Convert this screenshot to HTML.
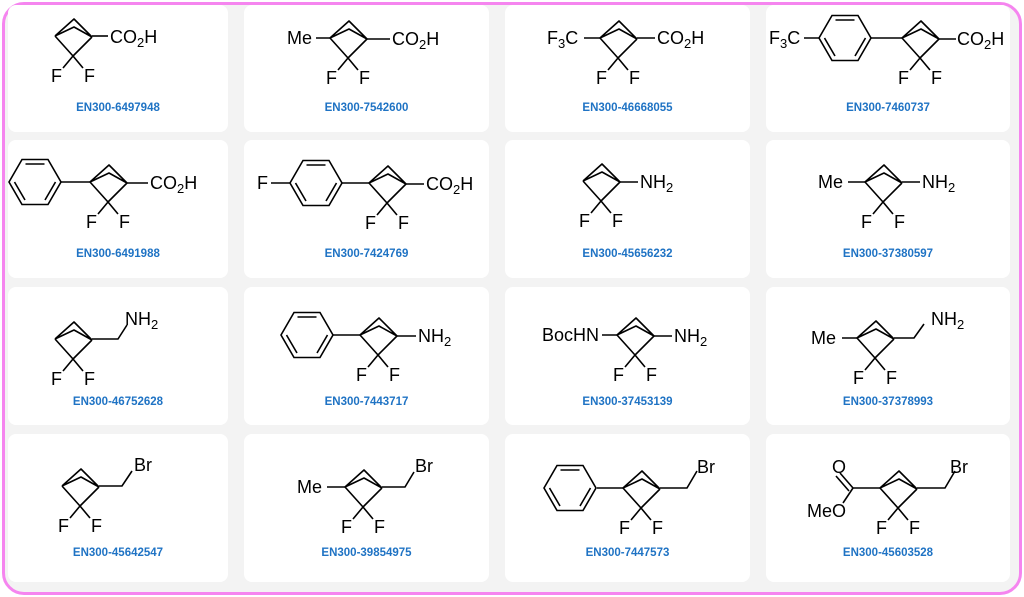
<!DOCTYPE html>
<html><head><meta charset="utf-8"><style>
body{margin:0;width:1024px;height:597px;background:#fff;overflow:hidden;position:relative;font-family:"Liberation Sans",sans-serif}
.frame{position:absolute;left:2px;top:2px;width:1014px;height:587px;border:3px solid #f585ef;border-radius:22px;background:#f3f3f3;overflow:hidden}
.card{position:absolute;background:#fff;border-radius:8px}
.lab{position:absolute;font-size:11.5px;font-weight:bold;color:#1f73c4;text-align:center}
svg{position:absolute;left:0;top:0}
svg text{font-family:"Liberation Sans",sans-serif;font-size:18px;fill:#000}
</style></head><body>
<div class="frame"></div>
<div class="card" style="left:8px;top:5px;width:220px;height:127px"></div>
<div class="card" style="left:244px;top:5px;width:245px;height:127px"></div>
<div class="card" style="left:505px;top:5px;width:245px;height:127px"></div>
<div class="card" style="left:766px;top:5px;width:244px;height:127px"></div>
<div class="card" style="left:8px;top:140px;width:220px;height:138px"></div>
<div class="card" style="left:244px;top:140px;width:245px;height:138px"></div>
<div class="card" style="left:505px;top:140px;width:245px;height:138px"></div>
<div class="card" style="left:766px;top:140px;width:244px;height:138px"></div>
<div class="card" style="left:8px;top:287px;width:220px;height:138px"></div>
<div class="card" style="left:244px;top:287px;width:245px;height:138px"></div>
<div class="card" style="left:505px;top:287px;width:245px;height:138px"></div>
<div class="card" style="left:766px;top:287px;width:244px;height:138px"></div>
<div class="card" style="left:8px;top:434px;width:220px;height:148px"></div>
<div class="card" style="left:244px;top:434px;width:245px;height:148px"></div>
<div class="card" style="left:505px;top:434px;width:245px;height:148px"></div>
<div class="card" style="left:766px;top:434px;width:244px;height:148px"></div>

<div class="lab" style="left:8px;width:220px;top:102px">EN300-6497948</div>
<div class="lab" style="left:244px;width:245px;top:102px">EN300-7542600</div>
<div class="lab" style="left:505px;width:245px;top:102px">EN300-46668055</div>
<div class="lab" style="left:766px;width:244px;top:102px">EN300-7460737</div>
<div class="lab" style="left:8px;width:220px;top:248px">EN300-6491988</div>
<div class="lab" style="left:244px;width:245px;top:248px">EN300-7424769</div>
<div class="lab" style="left:505px;width:245px;top:248px">EN300-45656232</div>
<div class="lab" style="left:766px;width:244px;top:248px">EN300-37380597</div>
<div class="lab" style="left:8px;width:220px;top:396px">EN300-46752628</div>
<div class="lab" style="left:244px;width:245px;top:396px">EN300-7443717</div>
<div class="lab" style="left:505px;width:245px;top:396px">EN300-37453139</div>
<div class="lab" style="left:766px;width:244px;top:396px">EN300-37378993</div>
<div class="lab" style="left:8px;width:220px;top:547px">EN300-45642547</div>
<div class="lab" style="left:244px;width:245px;top:547px">EN300-39854975</div>
<div class="lab" style="left:505px;width:245px;top:547px">EN300-7447573</div>
<div class="lab" style="left:766px;width:244px;top:547px">EN300-45603528</div>

<svg width="1024" height="597" viewBox="0 0 1024 597">
<defs>
<g id="bcp" stroke="#000" stroke-width="1.6" fill="none" stroke-linejoin="round">
<path d="M0 0 L19 -17 L37 1 M0 0 L19 -9 L37 1 M0 0 L18 20 L37 1 M18 20 L8 32 M18 20 L28 32"/>
</g>
<g id="bz" stroke="#000" stroke-width="1.6" fill="none">
<polygon points="-26,0 -13,-22.5 13,-22.5 26,0 13,22.5 -13,22.5"/>
<path d="M-9.5,-18 L9.5,-18 M20.5,0 L10,18 M-10,18 L-20.5,0"/>
</g>
</defs>
<g stroke="#000" stroke-width="1.6" fill="none">
<path d="M92 36 L108 36"/>
<path d="M316 38 L330 38 M367 39 L390 39"/>
<path d="M584 38 L600 38 M637 38 L655 38"/>
<path d="M804 38 L819 38 M871 38 L902 38 M939 39 L956 39"/>
<path d="M61 182 L90 182 M127 183 L148 183"/>
<path d="M271 183 L290 183 M342 183 L369 183 M406 184 L424 184"/>
<path d="M620 182 L638 182"/>
<path d="M848 182 L865 182 M902 182 L920 182"/>
<path d="M92 339 L118 339 L127 325"/>
<path d="M333 335 L360 335 M397 336 L416 336"/>
<path d="M602 335 L617 335 M654 336 L672 336"/>
<path d="M842 338 L857 338 M894 338 L914 338 L924 324"/>
<path d="M99 486 L122 486 L132 471"/>
<path d="M327 487 L345 487 M382 487 L405 487 L414 472"/>
<path d="M597 488 L623 488 M660 488 L687 488 L697 471"/>
<path d="M853 488 L880 488 M917 488 L945 488 L955 471 M853 488 L840 473 M849 491 L836 476 M853 488 L843 503"/>
</g>
<use href="#bcp" x="55" y="36"/>
<use href="#bcp" x="330" y="38"/>
<use href="#bcp" x="600" y="38"/>
<use href="#bcp" x="902" y="38"/>
<use href="#bz" x="845" y="38"/>
<use href="#bcp" x="90" y="182"/>
<use href="#bz" x="35" y="182"/>
<use href="#bcp" x="369" y="183"/>
<use href="#bz" x="316" y="183"/>
<use href="#bcp" x="583" y="181"/>
<use href="#bcp" x="865" y="182"/>
<use href="#bcp" x="55" y="339"/>
<use href="#bcp" x="360" y="335"/>
<use href="#bz" x="307" y="335"/>
<use href="#bcp" x="617" y="335"/>
<use href="#bcp" x="857" y="338"/>
<use href="#bcp" x="62" y="486"/>
<use href="#bcp" x="345" y="487"/>
<use href="#bcp" x="623" y="488"/>
<use href="#bz" x="570" y="488"/>
<use href="#bcp" x="880" y="488"/>

<g>
<text x="51" y="82">F</text><text x="84" y="82">F</text>
<text x="326" y="84">F</text><text x="359" y="84">F</text>
<text x="596" y="84">F</text><text x="629" y="84">F</text>
<text x="898" y="84">F</text><text x="931" y="84">F</text>
<text x="86" y="228">F</text><text x="119" y="228">F</text>
<text x="365" y="229">F</text><text x="398" y="229">F</text>
<text x="579" y="227">F</text><text x="612" y="227">F</text>
<text x="861" y="228">F</text><text x="894" y="228">F</text>
<text x="51" y="385">F</text><text x="84" y="385">F</text>
<text x="356" y="381">F</text><text x="389" y="381">F</text>
<text x="613" y="381">F</text><text x="646" y="381">F</text>
<text x="853" y="384">F</text><text x="886" y="384">F</text>
<text x="58" y="532">F</text><text x="91" y="532">F</text>
<text x="341" y="533">F</text><text x="374" y="533">F</text>
<text x="619" y="534">F</text><text x="652" y="534">F</text>
<text x="876" y="534">F</text><text x="909" y="534">F</text>
</g>
<text x="110" y="43">CO<tspan font-size="13" dy="4">2</tspan><tspan dy="-4">H</tspan></text>
<text x="287" y="44">Me</text>
<text x="392" y="45">CO<tspan font-size="13" dy="4">2</tspan><tspan dy="-4">H</tspan></text>
<text x="547" y="44">F<tspan font-size="13" dy="4">3</tspan><tspan dy="-4">C</tspan></text>
<text x="657" y="44">CO<tspan font-size="13" dy="4">2</tspan><tspan dy="-4">H</tspan></text>
<text x="769" y="44">F<tspan font-size="13" dy="4">3</tspan><tspan dy="-4">C</tspan></text>
<text x="957" y="45">CO<tspan font-size="13" dy="4">2</tspan><tspan dy="-4">H</tspan></text>
<text x="150" y="189">CO<tspan font-size="13" dy="4">2</tspan><tspan dy="-4">H</tspan></text>
<text x="257" y="189">F</text>
<text x="426" y="190">CO<tspan font-size="13" dy="4">2</tspan><tspan dy="-4">H</tspan></text>
<text x="640" y="188">NH<tspan font-size="13" dy="4">2</tspan></text>
<text x="818" y="188">Me</text>
<text x="922" y="188">NH<tspan font-size="13" dy="4">2</tspan></text>
<text x="125" y="325">NH<tspan font-size="13" dy="4">2</tspan></text>
<text x="418" y="342">NH<tspan font-size="13" dy="4">2</tspan></text>
<text x="542" y="341">BocHN</text>
<text x="674" y="342">NH<tspan font-size="13" dy="4">2</tspan></text>
<text x="811" y="344">Me</text>
<text x="931" y="325">NH<tspan font-size="13" dy="4">2</tspan></text>
<text x="134" y="471">Br</text>
<text x="297" y="493">Me</text>
<text x="415" y="472">Br</text>
<text x="697" y="473">Br</text>
<text x="832" y="473">O</text>
<text x="807" y="517">MeO</text>
<text x="950" y="473">Br</text>
</svg>
</body></html>
